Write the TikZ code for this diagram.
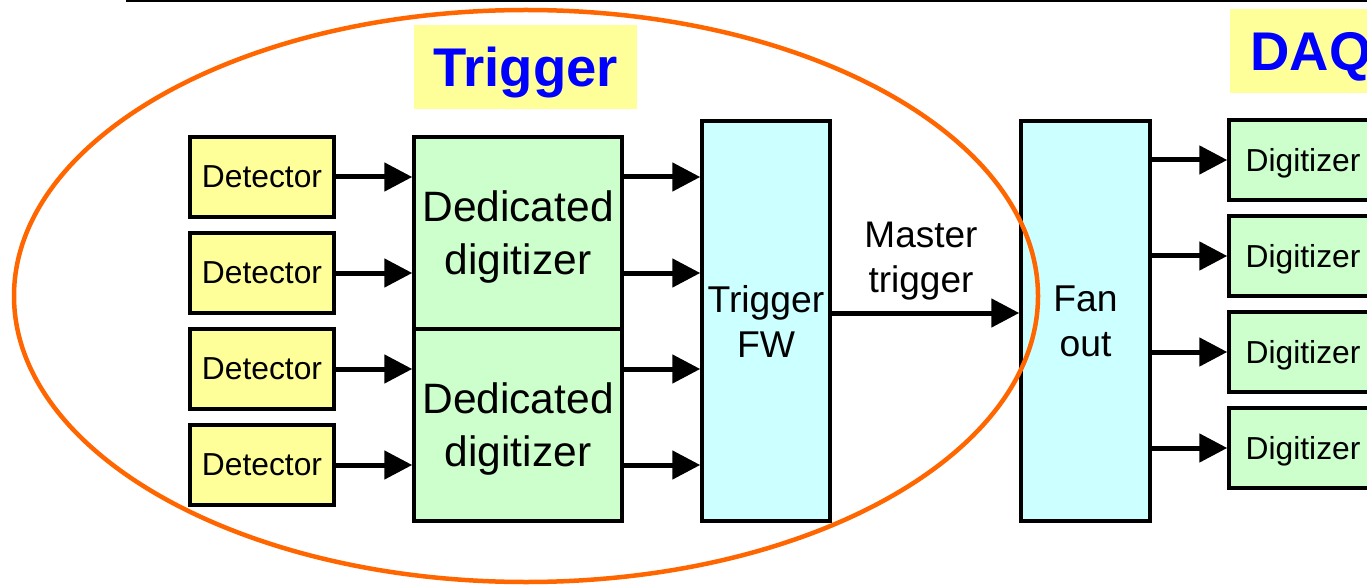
\documentclass[tikz,border=0pt]{standalone}
\usepackage{fontspec}
\setmainfont{Liberation Sans}
\usetikzlibrary{arrows.meta}
\definecolor{ylw}{HTML}{FFFF99}
\definecolor{grn}{HTML}{CCFFCC}
\definecolor{cyn}{HTML}{CCFFFF}
\definecolor{ttl}{HTML}{0000FF}
\definecolor{org}{HTML}{FF6600}
\begin{document}
\begin{tikzpicture}[x=1pt,y=-1pt,
  box/.style={draw=black,line width=3.5pt,inner sep=0pt,align=center,text depth=0pt},
  det/.style={box,fill=ylw,minimum width=144pt,minimum height=80pt,font=\fontsize{31.8}{36}\selectfont},
  ded/.style={box,fill=grn,minimum width=208pt,minimum height=192pt,font=\fontsize{42.5}{53}\selectfont},
  tall/.style={box,fill=cyn,minimum width=128pt,minimum height=400pt,font=\fontsize{37.3}{45}\selectfont},
  dig/.style={box,fill=grn,minimum width=148pt,minimum height=80pt,font=\fontsize{31.8}{36}\selectfont},
  ttlbox/.style={fill=ylw,inner sep=0pt,minimum height=84pt,text depth=0pt,text=ttl,font=\fontsize{54.5}{60}\selectfont\bfseries},
  arr/.style={line width=5pt,-{Triangle[length=28pt,width=28pt]}}]
\clip (0,0) rectangle (1367,585);
\draw[line width=2pt] (126,1) -- (1367,1);

\node[ttlbox,minimum width=223pt] (trg) at (525.5,67) {Trigger};
\node[ttlbox,minimum width=162pt] (daq) at (1311,51) {DAQ};

\node[det] (d1) at (262,177) {Detector};
\node[det] (d2) at (262,273) {Detector};
\node[det] (d3) at (262,369) {Detector};
\node[det] (d4) at (262,465) {Detector};

\node[ded] (dd1) at (518,233) {Dedicated\\digitizer};
\node[ded] (dd2) at (518,425) {Dedicated\\digitizer};

\node[tall] (tfw) at (766,321) {Trigger\\FW};
\node[tall,minimum width=129pt] (fan) at (1085.5,321) {Fan\\out};

\node[align=center,inner sep=0pt,text depth=0pt,font=\fontsize{37}{45}\selectfont] (mt) at (921,257) {Master\\trigger};

\node[dig] (g1) at (1303,160) {Digitizer};
\node[dig] (g2) at (1303,256) {Digitizer};
\node[dig] (g3) at (1303,352) {Digitizer};
\node[dig] (g4) at (1303,448) {Digitizer};

\foreach \i in {1,2,3,4} {
  \draw[arr] (d\i.east) -- (d\i.east -| dd1.west);
}
\draw[arr] (dd1.east |- d1) -- (tfw.west |- d1);
\draw[arr] (dd1.east |- d2) -- (tfw.west |- d2);
\draw[arr] (dd2.east |- d3) -- (tfw.west |- d3);
\draw[arr] (dd2.east |- d4) -- (tfw.west |- d4);

\draw[arr] ([yshift=8pt]tfw.east) -- ([yshift=8pt]fan.west);

\foreach \i in {1,2,3,4} {
  \draw[arr] (fan.east |- g\i) -- (g\i.west);
}

\draw[org,line width=4.5pt] (526,296) ellipse [x radius=512pt, y radius=286pt];
\end{tikzpicture}
\end{document}
